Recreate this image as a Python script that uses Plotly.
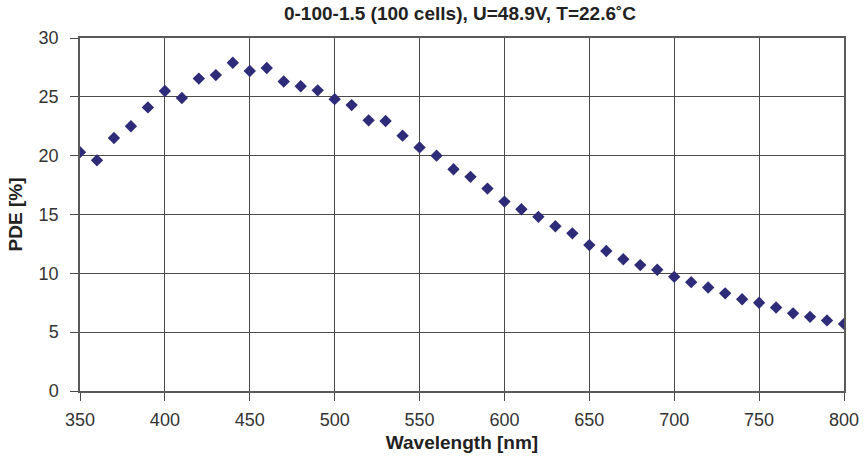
import plotly.graph_objects as go

# Wavelength sampling (nm) and measured photon detection efficiency (%)
wavelength = list(range(350, 801, 10))
pde = [
    20.3, 19.6, 21.5, 22.5, 24.1, 25.5, 24.9, 26.55, 26.85, 27.9,
    27.2, 27.45, 26.3, 25.9, 25.55, 24.8, 24.3, 23.0, 22.95, 21.7,
    20.7, 20.0, 18.85, 18.2, 17.2, 16.1, 15.45, 14.8, 14.0, 13.4,
    12.4, 11.9, 11.2, 10.7, 10.3, 9.7, 9.25, 8.8, 8.3, 7.8,
    7.5, 7.1, 6.6, 6.3, 6.0, 5.7,
]
x_ticks = list(range(350, 801, 50))
y_ticks = list(range(0, 31, 5))

title_text = "0-100-1.5 (100 cells), U=48.9V, T=22.6˚C"
font_family = "Liberation Sans, Arial, sans-serif"

fig = go.Figure(
    go.Scatter(
        x=wavelength,
        y=pde,
        mode="markers",
        marker=dict(symbol="diamond", size=9.5, color="#2e2b78",
                    line=dict(width=0)),
        showlegend=False,
    )
)

axis_common = dict(
    automargin=False,
    showgrid=True,
    gridcolor="#4a4a4a",
    gridwidth=1,
    showline=True,
    linecolor="#5a5a5a",
    linewidth=1.5,
    mirror=True,
    ticks="outside",
    ticklen=8,
    tickwidth=1,
    tickcolor="#4a4a4a",
    tickfont=dict(family=font_family, size=18, color="#333333"),
    zeroline=False,
)

fig.update_layout(
    width=864,
    height=457,
    margin=dict(l=80, r=20, t=38, b=66),
    paper_bgcolor="white",
    plot_bgcolor="white",
    title=dict(
        text=title_text,
        x=460 / 864,
        xanchor="center",
        y=1 - 13 / 457,
        yanchor="middle",
        font=dict(family=font_family, size=19, color="#222222", weight="bold"),
    ),
    xaxis=dict(
        range=[350, 800],
        tickvals=x_ticks,
        ticklabelstandoff=4,
        title=dict(text="Wavelength [nm]", standoff=6,
                   font=dict(family=font_family, size=19, color="#222222", weight="bold")),
        **axis_common,
    ),
    yaxis=dict(
        range=[0, 30],
        tickvals=y_ticks,
        ticklabelstandoff=8,
        title=dict(text="PDE [%]", standoff=11,
                   font=dict(family=font_family, size=19, color="#222222", weight="bold")),
        **axis_common,
    ),
)

fig.write_html("out.html")
